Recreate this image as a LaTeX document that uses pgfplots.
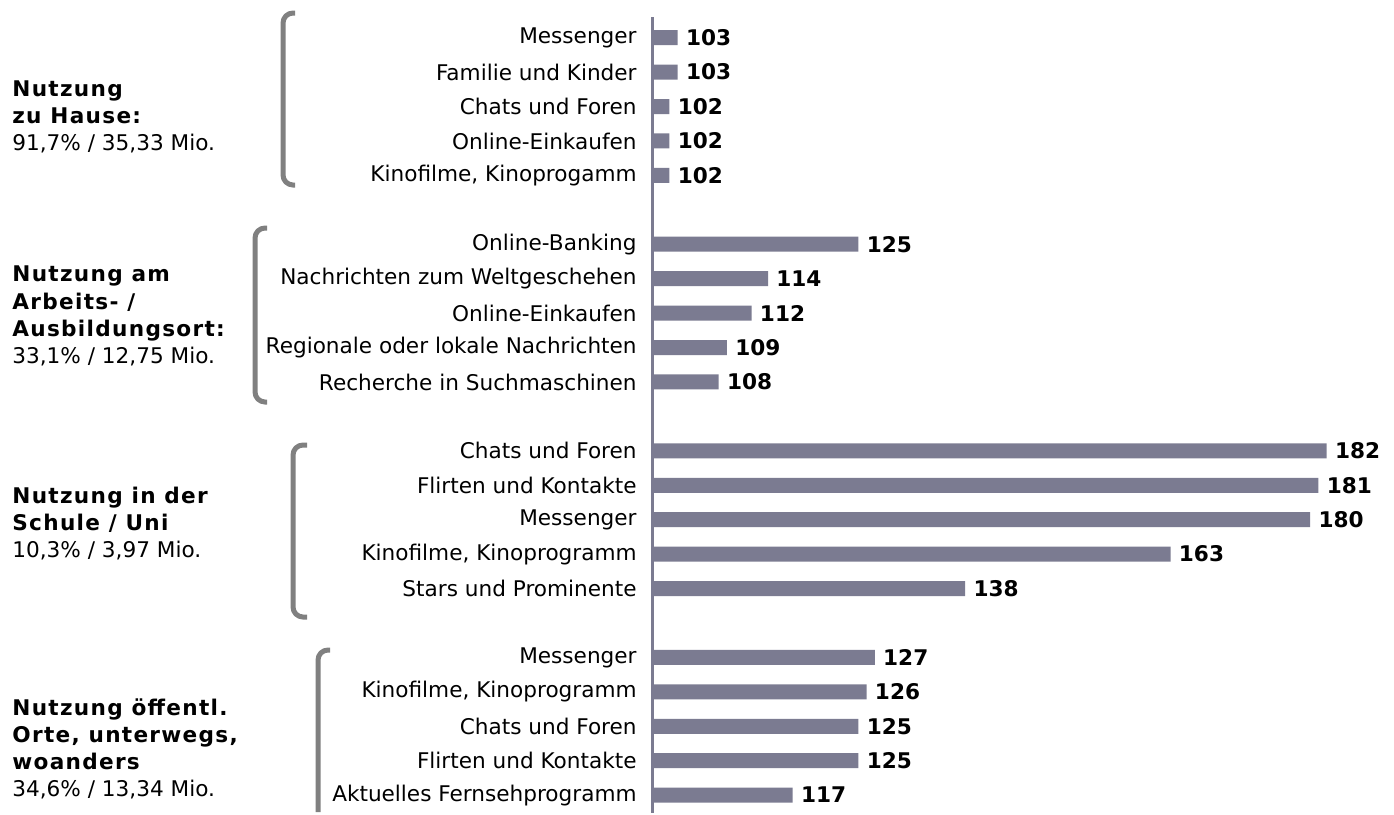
\documentclass[border=0pt]{standalone}
\usepackage{pgfplots}
\pgfplotsset{compat=1.18}
\usepackage{fontspec}
\setmainfont{DejaVu Sans}
\definecolor{barcol}{RGB}{123,123,145}
\definecolor{brk}{RGB}{128,128,128}
\newcommand{\lblfont}{\fontsize{10.8}{13.6}\selectfont}
\newfontfamily\grpbold[LetterSpace=6]{DejaVu Sans Bold}
\begin{document}
\begin{tikzpicture}
\begin{axis}[
  at={(326.5pt,-406.5pt)}, anchor=south west,
  scale only axis, width=370.5pt, height=398pt,
  xmin=100, xmax=190.2, ymin=-0.6, ymax=22.52, y dir=reverse,
  axis x line=none, axis y line*=left,
  y axis line style={draw=barcol, line width=1.5pt},
  xbar, bar width=7.5pt,
  ytick={0,1,2,3,4,6,7,8,9,10,12,13,14,15,16,18,19,20,21,22},
  yticklabels={Messenger, Familie und Kinder, Chats und Foren, Online-Einkaufen, {Kinofilme, Kinoprogamm},
    Online-Banking, Nachrichten zum Weltgeschehen, Online-Einkaufen, Regionale oder lokale Nachrichten, Recherche in Suchmaschinen,
    Chats und Foren, Flirten und Kontakte, Messenger, {Kinofilme, Kinoprogramm}, Stars und Prominente,
    Messenger, {Kinofilme, Kinoprogramm}, Chats und Foren, Flirten und Kontakte, Aktuelles Fernsehprogramm},
  major tick length=0pt,
  /pgf/number format/assume math mode=true,
  yticklabel style={font=\lblfont, text=black, anchor=east, inner sep=0pt, xshift=-8pt},
  nodes near coords,
  nodes near coords style={font=\lblfont\bfseries, text=black, anchor=west, inner sep=0pt, xshift=4pt},
]
\addplot[fill=barcol, draw=none] coordinates {
  (103,0) (103,1) (102,2) (102,3) (102,4)
  (125,6) (114,7) (112,8) (109,9) (108,10)
  (182,12) (181,13) (180,14) (163,15) (138,16)
  (127,18) (126,19) (125,20) (125,21) (117,22)
};
\end{axis}
\begin{scope}[x=0.5pt,y=-0.5pt]
\path (0,0) rectangle (1394,813);
\begin{scope}[draw=brk, line width=2.5pt, rounded corners=5pt]
\draw (295,13) -- (283,13) -- (283,185) -- (295,185);
\draw (267,228) -- (255,228) -- (255,402) -- (267,402);
\draw (307,445) -- (293,445) -- (293,617) -- (307,617);
\draw (330,650) -- (318,650) -- (318,812);
\end{scope}
\begin{scope}[every node/.style={anchor=west, align=left, inner sep=0pt, font=\lblfont, text=black}]
\node at (12,117) {{\grpbold Nutzung}\\{\grpbold zu Hause:}\\91,7\% / 35,33 Mio.};
\node at (12,316) {{\grpbold Nutzung am}\\{\grpbold Arbeits- /}\\{\grpbold Ausbildungsort:}\\33,1\% / 12,75 Mio.};
\node at (12,523.5) {{\grpbold Nutzung in der}\\{\grpbold Schule / Uni}\\10,3\% / 3,97 Mio.};
\node at (12,749) {{\grpbold Nutzung öffentl.}\\{\grpbold Orte, unterwegs,}\\{\grpbold woanders}\\34,6\% / 13,34 Mio.};
\end{scope}
\end{scope}
\end{tikzpicture}
\end{document}
